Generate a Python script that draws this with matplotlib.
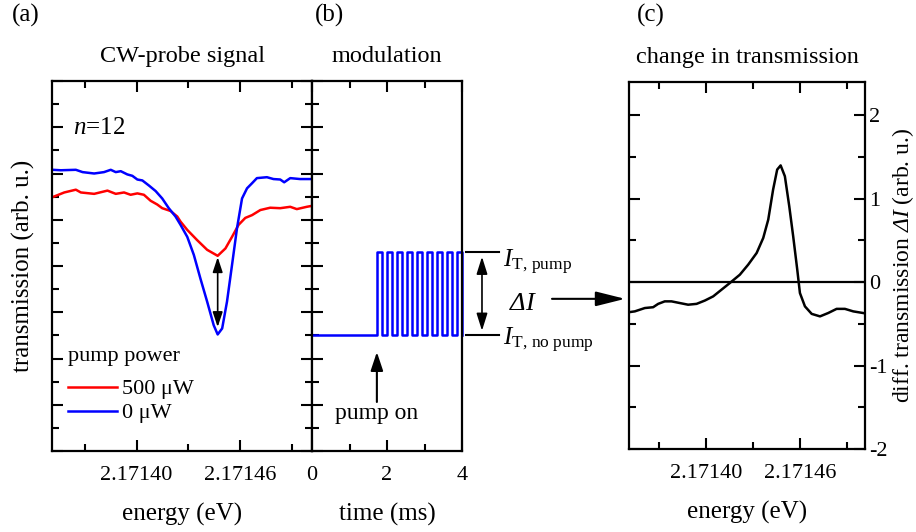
import matplotlib
matplotlib.use('Agg')
import matplotlib.pyplot as plt
from matplotlib.ticker import MultipleLocator, FixedLocator

plt.rcParams['font.family'] = ['Liberation Serif', 'DejaVu Serif']
plt.rcParams['mathtext.fontset'] = 'custom'
plt.rcParams['mathtext.rm'] = 'Liberation Serif'
plt.rcParams['mathtext.it'] = 'Liberation Serif:italic'
# sf slot used for an italic capital Delta (mathtext forces Greek capitals upright in 'it')
plt.rcParams['mathtext.sf'] = 'Liberation Serif:italic'
plt.rcParams['axes.unicode_minus'] = False

# (a) CW-probe transmission, energy in eV
energy_blue = [2.1713514, 2.1713561, 2.1713648, 2.1713687, 2.1713754, 2.1713811, 2.1713850,
               2.1713879, 2.1713908, 2.1713946, 2.1713975, 2.1714004, 2.1714033, 2.1714071,
               2.1714110, 2.1714148, 2.1714186, 2.1714225, 2.1714254, 2.1714293, 2.1714331,
               2.1714369, 2.1714408, 2.1714446, 2.1714469, 2.1714495, 2.1714523, 2.1714552,
               2.1714581, 2.1714610, 2.1714639, 2.1714668, 2.1714696, 2.1714754, 2.1714792,
               2.1714831, 2.1714854, 2.1714889, 2.1714946, 2.1715014]
trans_blue = [6.08, 6.07, 6.08, 6.03, 6.00, 6.03, 6.08, 6.03, 6.05, 5.98, 5.95, 5.87, 5.85, 5.74,
              5.62, 5.46, 5.25, 5.07, 4.89, 4.63, 4.24, 3.73, 3.23, 2.72, 2.52, 2.65, 3.23, 4.02,
              4.82, 5.46, 5.68, 5.79, 5.90, 5.92, 5.88, 5.87, 5.81, 5.90, 5.88, 5.88]
energy_red = [2.1713514, 2.1713581, 2.1713648, 2.1713677, 2.1713754, 2.1713831, 2.1713879,
              2.1713927, 2.1713965, 2.1714004, 2.1714042, 2.1714081, 2.1714119, 2.1714148,
              2.1714196, 2.1714235, 2.1714254, 2.1714293, 2.1714350, 2.1714408, 2.1714469,
              2.1714514, 2.1714552, 2.1714590, 2.1714629, 2.1714668, 2.1714716, 2.1714773,
              2.1714831, 2.1714889, 2.1714927, 2.1714985, 2.1715014]
trans_red = [5.49, 5.59, 5.65, 5.59, 5.56, 5.63, 5.56, 5.59, 5.54, 5.57, 5.54, 5.41, 5.33, 5.25,
             5.19, 5.07, 4.96, 4.78, 4.56, 4.35, 4.22, 4.38, 4.63, 4.89, 5.04, 5.10, 5.21, 5.26,
             5.25, 5.28, 5.23, 5.28, 5.30]
legend_labels = ['500 \u03bcW', '0 \u03bcW']

# (b) modulation (time in ms)
level_low = 2.5
level_high = 4.3
rise_times = [1.73, 1.996, 2.262, 2.528, 2.794, 3.06, 3.326, 3.592, 3.858]
fall_times = [1.87, 2.136, 2.402, 2.668, 2.934, 3.20, 3.466, 3.732, 4.0]

# (c) change in transmission
energy_diff = [2.1713509, 2.1713547, 2.1713611, 2.1713664, 2.1713696, 2.1713738, 2.1713781,
               2.1713834, 2.1713887, 2.1713941, 2.1713994, 2.1714047, 2.1714100, 2.1714153,
               2.1714217, 2.1714270, 2.1714324, 2.1714366, 2.1714398, 2.1714429, 2.1714455,
               2.1714477, 2.1714504, 2.1714532, 2.1714557, 2.1714583, 2.1714600, 2.1714632,
               2.1714675, 2.1714728, 2.1714780, 2.1714834, 2.1714887, 2.1714940, 2.1715004]
delta_I = [-0.36, -0.35, -0.31, -0.30, -0.26, -0.23, -0.23, -0.25, -0.27, -0.26, -0.22, -0.17,
           -0.09, -0.01, 0.09, 0.21, 0.35, 0.53, 0.75, 1.11, 1.35, 1.40, 1.27, 0.91, 0.55, 0.15,
           -0.13, -0.29, -0.38, -0.41, -0.37, -0.32, -0.32, -0.35, -0.37]

e_ticks = [2.17140, 2.17146]
e_lim = (2.171351, 2.1715015)

fig = plt.figure(figsize=(9.16, 5.32), dpi=100)
ax_a = fig.add_axes([52 / 916, 81 / 532, 260 / 916, 370 / 532])
ax_b = fig.add_axes([312 / 916, 81 / 532, 150 / 916, 370 / 532], sharey=ax_a)
ax_c = fig.add_axes([629 / 916, 83 / 532, 236 / 916, 367 / 532])

lw_sp = 1.6
for ax in (ax_a, ax_b, ax_c):
    for s in ax.spines.values():
        s.set_linewidth(lw_sp)
    ax.tick_params(which='both', direction='in', width=1.5, labelsize=16, pad=11)
    ax.tick_params(which='major', length=8)
    ax.tick_params(which='minor', length=5)

# ---- (a)
ax_a.plot(energy_red, trans_red, color='#ff0000', lw=1.8, label=legend_labels[0])
ax_a.plot(energy_blue, trans_blue, color='#0000ff', lw=1.8, label=legend_labels[1])
ax_a.set_xlim(*e_lim)
ax_a.set_ylim(0, 8)
ax_a.xaxis.set_major_locator(FixedLocator(e_ticks))
ax_a.xaxis.set_minor_locator(FixedLocator([2.17137, 2.17143, 2.17149]))
ax_a.set_xticklabels(['2.17140', '2.17146'])
ax_a.yaxis.set_major_locator(MultipleLocator(1))
ax_a.yaxis.set_minor_locator(MultipleLocator(0.5))
ax_a.tick_params(which='both', top=True, right=True, labelleft=False)
ax_a.set_xlabel('energy (eV)', fontsize=18, labelpad=13)
ax_a.set_ylabel('transmission (arb. u.)', fontsize=18, labelpad=12)
ax_a.set_title('CW-probe signal', fontsize=17.5, pad=14)
ax_a.text(0.081, 0.873, '$n$=12', transform=ax_a.transAxes, fontsize=18, va='center')
ax_a.annotate('', xy=(2.1714469, 4.19), xytext=(2.1714469, 2.68),
              arrowprops=dict(arrowstyle='<|-|>,head_length=0.6,head_width=0.2',
                              color='k', lw=1.2, mutation_scale=15, shrinkA=0, shrinkB=0))
leg = ax_a.legend(title='pump power', loc='upper left', bbox_to_anchor=(0.02, 0.31),
                  frameon=False, fontsize=16, title_fontsize=16, handlelength=2.2,
                  handletextpad=0.2, labelspacing=0.15, borderpad=0, alignment='left')
leg._legend_box.sep = 9

# ---- (b)
t_wave = [0.0]
y_wave = [level_low]
for r, f in zip(rise_times, fall_times):
    t_wave += [r, r, f, f]
    y_wave += [level_low, level_high, level_high, level_low]
ax_b.plot(t_wave, y_wave, color='#0000ff', lw=1.8, clip_on=False)
ax_b.set_xlim(0, 4)
ax_b.xaxis.set_major_locator(MultipleLocator(2))
ax_b.xaxis.set_minor_locator(MultipleLocator(1))
ax_b.tick_params(which='both', top=True, left=True, right=False, labelleft=False)
ax_b.set_xlabel('time (ms)', fontsize=18, labelpad=13)
ax_b.set_title('modulation', fontsize=17.5, pad=14)
ax_b.annotate('', xy=(1.73, 2.14), xytext=(1.73, 1.06),
              arrowprops=dict(arrowstyle='-|>,head_length=0.75,head_width=0.25',
                              color='k', lw=1.5, mutation_scale=15, shrinkA=0, shrinkB=0))
ax_b.text(1.73, 0.82, 'pump on', fontsize=17, ha='center', va='center')
for lev in (level_low, level_high):
    ax_b.plot([4.107, 4.987], [lev, lev], color='k', lw=1.5, clip_on=False)
ax_b.annotate('', xy=(4.533, 4.2), xytext=(4.533, 2.6), annotation_clip=False,
              arrowprops=dict(arrowstyle='<|-|>,head_length=0.7,head_width=0.22',
                              color='k', lw=1.2, mutation_scale=15, shrinkA=0, shrinkB=0))
ax_b.text(5.09, 3.98, r'$I_{\mathrm{T,\,pump}}$', fontsize=18, va='baseline', clip_on=False)
ax_b.text(5.09, 2.29, r'$I_{\mathrm{T,\,no\ pump}}$', fontsize=18, va='baseline', clip_on=False)
ax_b.text(5.25, 3.05, r'$\mathsf{\Delta}I$', fontsize=19, va='baseline', clip_on=False)
ax_b.annotate('', xy=(8.35, 3.29), xytext=(6.4, 3.29), annotation_clip=False,
              arrowprops=dict(arrowstyle='-|>,head_length=1.2,head_width=0.3',
                              color='k', lw=1.5, mutation_scale=15, shrinkA=0, shrinkB=0))

# ---- (c)
ax_c.plot(energy_diff, delta_I, color='k', lw=1.8)
ax_c.axhline(0, color='k', lw=1.6)
ax_c.set_xlim(*e_lim)
ax_c.set_ylim(-2, 2.4)
ax_c.xaxis.set_major_locator(FixedLocator(e_ticks))
ax_c.xaxis.set_minor_locator(FixedLocator([2.17137, 2.17143, 2.17149]))
ax_c.set_xticklabels(['2.17140', '2.17146'])
ax_c.yaxis.set_major_locator(MultipleLocator(1))
ax_c.yaxis.set_minor_locator(MultipleLocator(0.5))
ax_c.yaxis.tick_right()
ax_c.yaxis.set_label_position('right')
ax_c.tick_params(which='both', top=True, left=True, right=True, labelright=True, labelleft=False)
ax_c.tick_params(axis='y', pad=3)
ax_c.set_xlabel('energy (eV)', fontsize=18, labelpad=13)
ax_c.set_ylabel(r'diff. transmission $\mathsf{\Delta}I$ (arb. u.)', fontsize=17, labelpad=2)
ax_c.set_title('change in transmission', fontsize=17.5, pad=14)

fig.text(12 / 916, 1 - 15 / 532, '(a)', fontsize=18, va='center')
fig.text(315 / 916, 1 - 15 / 532, '(b)', fontsize=18, va='center')
fig.text(637 / 916, 1 - 15 / 532, '(c)', fontsize=18, va='center')

fig.savefig('out.png', dpi=100)
